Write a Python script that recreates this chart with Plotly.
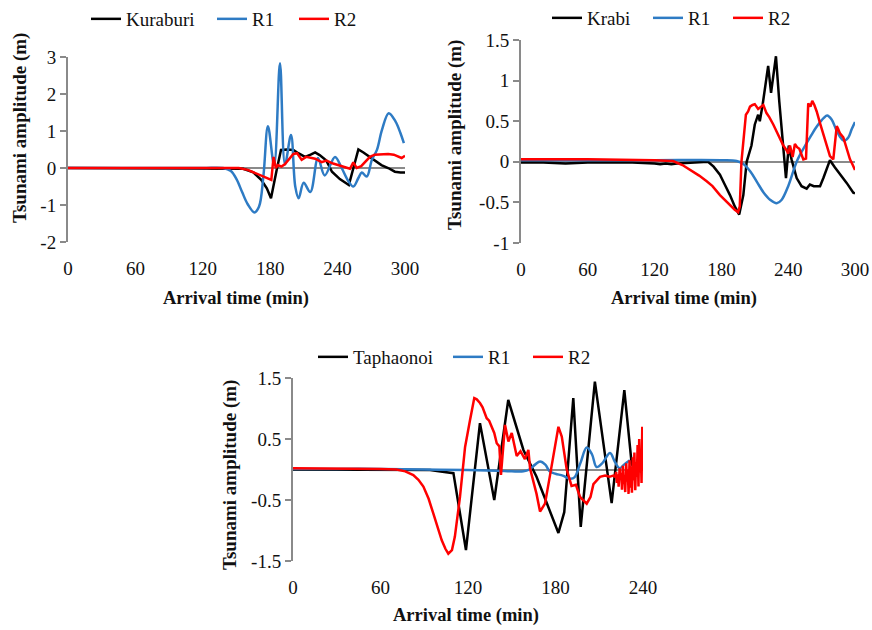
import plotly.graph_objects as go

# ---------------- Kuraburi (observed, R1, R2) ----------------
kura_obs_t = [0, 30, 60, 90, 120, 150, 156, 165, 172, 177, 180.7, 185.8, 189.6, 195, 200.6, 205,
              211, 216, 220, 224, 230, 235, 242, 250, 258.5, 263, 267, 273, 279, 285, 291, 296, 300]
kura_obs_y = [0, 0, 0, 0, 0, 0, -0.02, -0.12, -0.32, -0.55, -0.82, -0.05, 0.49, 0.5, 0.49, 0.4,
              0.3, 0.36, 0.42, 0.35, 0.2, -0.1, -0.3, -0.46, 0.5, 0.42, 0.33, 0.2, 0.08, 0.0, -0.1, -0.12, -0.12]

kura_r1_t = [0, 60, 120, 138, 145, 150, 155, 160, 166, 170, 174, 178, 183.5, 188.7, 193.2, 198.5,
             202.3, 205.3, 209.8, 215.7, 222.5, 228.5, 237.7, 243.6, 249.5, 254, 258.5, 261.5, 266,
             270.5, 275, 279.5, 285.5, 291.5, 296, 299]
kura_r1_y = [0, 0, 0, 0, -0.08, -0.3, -0.65, -0.98, -1.2, -1.05, -0.2, 1.13, 0.08, 2.83, 0.1, 0.89,
             -0.5, -0.82, -0.4, -0.65, 0.27, -0.2, 0.3, 0.0, -0.35, -0.5, -0.27, -0.12, -0.23,
             0.22, 0.49, 1.03, 1.48, 1.26, 0.94, 0.67]

kura_r2_t = [0, 60, 120, 152, 160, 168, 175, 181, 183, 185, 187, 190, 193, 197, 200.6, 204, 208,
             212, 216, 220, 225.8, 230, 236, 243.6, 248, 251, 254, 257, 261, 265, 268.8, 273, 279,
             285, 290, 297, 300]
kura_r2_y = [0, 0, 0, 0, -0.05, -0.15, -0.25, -0.32, 0.3, 0.0, 0.08, 0.04, 0.1, 0.25, 0.38, 0.4, 0.22,
             0.3, 0.28, 0.25, 0.16, 0.2, 0.12, 0.05, 0.02, -0.02, 0.15, 0.0, 0.05, 0.18, 0.3, 0.36, 0.38,
             0.38, 0.36, 0.27, 0.33]

# ---------------- Krabi (observed, R1, R2) ----------------
krabi_obs_t = [0, 20, 40, 60, 80, 100, 120, 125, 130, 135, 140, 160, 168, 173, 178.7, 183, 187.7,
               192, 196, 199.7, 202.7, 207, 210, 213, 214.5, 217, 219, 222, 224.6, 226.6, 229, 232,
               235.6, 238, 240.5, 243, 247.6, 252, 256.6, 259.5, 263, 268.6, 271.6, 277.5, 282,
               286.5, 292.5, 298.5, 300]
krabi_obs_y = [-0.01, -0.01, -0.02, -0.01, -0.01, -0.01, -0.02, -0.03, -0.02, -0.03, -0.02, -0.01, 0,
               -0.06, -0.16, -0.28, -0.41, -0.55, -0.65, -0.41, 0.0, 0.2, 0.46, 0.58, 0.5, 0.7, 0.87,
               1.18, 0.85, 1.03, 1.3, 0.74, 0.2, -0.2, 0.2, 0.03, -0.2, -0.3, -0.33, -0.28, -0.3,
               -0.3, -0.2, 0.02, -0.07, -0.15, -0.26, -0.38, -0.39]

krabi_r1_t = [0, 60, 120, 180, 193.7, 200, 206, 212, 218, 224, 229.7, 234, 240, 247.6, 254, 260,
              266, 272, 275, 279, 283, 287, 290, 294, 297, 300]
krabi_r1_y = [0.02, 0.02, 0.02, 0.02, 0.01, -0.03, -0.12, -0.25, -0.38, -0.47, -0.51, -0.47, -0.3,
              0.0, 0.17, 0.31, 0.44, 0.54, 0.57, 0.52, 0.4, 0.3, 0.26, 0.3, 0.4, 0.49]

krabi_r2_t = [0, 60, 120, 136.5, 145, 154.8, 160, 166.8, 172, 178.7, 185, 192, 195, 196.5, 198, 200,
              202, 204, 205.7, 208, 210, 213, 215.5, 217.7, 220.5, 223, 226.6, 229.5, 232.6, 235.6,
              238.7, 240, 241.6, 243, 244, 246, 248, 250, 252, 253.6, 256, 257, 258, 260, 261.6,
              263.5, 265.6, 268.5, 271.6, 274.5, 277.5, 280.5, 282, 283.6, 285, 286.5, 289.5, 292.5,
              295.5, 298, 300]
krabi_r2_y = [0.03, 0.03, 0.02, 0.01, -0.04, -0.12, -0.17, -0.24, -0.3, -0.41, -0.5, -0.59, -0.62,
              -0.55, 0.0, 0.3, 0.58, 0.62, 0.68, 0.7, 0.71, 0.65, 0.68, 0.7, 0.6, 0.55, 0.46, 0.38,
              0.29, 0.2, 0.14, 0.1, 0.2, 0.1, 0.06, 0.22, 0.18, 0.16, 0.08, 0.03, 0.04, 0.3, 0.72,
              0.68, 0.75, 0.7, 0.62, 0.48, 0.33, 0.2, 0.07, 0.03, 0.2, 0.44, 0.4, 0.35, 0.3, 0.17,
              0.03, -0.04, -0.1]

# ---------------- Taphaonoi (observed, R1, R2) ----------------
taph_obs_t = [0, 30, 60, 90, 94, 100, 107.7, 110, 118.6, 128.2, 138, 147.6, 158, 167, 174, 182, 186,
              192.2, 197.3, 207, 218.5, 227.2, 232.2, 234]
taph_obs_y = [0, 0, 0, 0, -0.01, -0.03, -0.05, -0.06, -1.32, 0.76, -0.5, 1.14, 0.32, -0.12, -0.55,
              -1.04, -0.7, 1.17, -0.94, 1.44, -0.55, 1.3, 0.1, 0.0]

taph_r1_t = [0, 30, 60, 90, 120, 140, 150, 158, 162, 166, 169.4, 173, 176, 180, 185, 190, 193, 197,
             201.4, 205, 208.2, 212, 217.4, 220.8, 224, 227, 231]
taph_r1_y = [0.01, 0.01, 0.01, 0.0, -0.01, -0.02, -0.03, -0.03, 0.0, 0.08, 0.13, 0.08, -0.03, -0.07,
             -0.1, -0.15, -0.13, 0.1, 0.36, 0.25, 0.04, 0.1, 0.27, 0.12, 0.02, 0.08, 0.15]

taph_r2_t = [0, 30, 60, 71, 77, 82.5, 86, 89.4, 93, 96.2, 99, 102, 104.5, 106.5, 109, 111, 114.5,
             118, 121.4, 124.3, 126, 128.2, 130, 132.8, 134.5, 136.2, 138, 139.7, 141.5, 142.6,
             145.4, 147.7, 150, 153.4, 156, 159, 161.4, 162.6, 165, 167, 169.4, 172.8, 176.2, 179,
             182, 184.3, 187.7, 191, 194, 196.8, 201.4, 204, 206, 210.5, 214, 217, 219.6,
             221, 221.6, 222.1, 222.8, 223.3, 224, 224.4, 225.1, 225.6, 226.2, 226.7, 227.3, 227.8,
             228.5, 229, 229.6, 230.1, 230.8, 231.2, 231.9, 232.4, 233, 233.6, 234.1, 234.7,
             235.2, 235.8, 236.3, 236.9, 237.4, 238, 238.5, 239, 239.5, 240]
taph_r2_y = [0.02, 0.02, 0.01, 0.0, -0.03, -0.09, -0.17, -0.28, -0.48, -0.72, -0.95, -1.16, -1.3,
             -1.38, -1.32, -1.1, -0.45, 0.37, 0.81, 1.17, 1.15, 1.09, 1.02, 0.84, 0.8, 0.7, 0.6,
             0.43, 0.38, -0.09, 0.73, 0.46, 0.6, 0.22, 0.3, 0.17, 0.32, 0.01, -0.2, -0.4, -0.69,
             -0.56, -0.1, 0.3, 0.7, 0.54, 0.0, -0.27, -0.25, -0.45, -0.56, -0.45, -0.24, -0.12,
             -0.1, -0.12, -0.1,
             -0.12, -0.04, -0.22, -0.08, -0.28, 0.02, -0.15, -0.06, -0.33, 0.06, -0.24, -0.1, -0.37,
             0.1, -0.2, 0.0, -0.4, 0.15, -0.3, 0.05, -0.38, 0.2, -0.18, 0.28, -0.34, 0.12,
             -0.12, 0.4, -0.28, 0.5, -0.05, 0.3, -0.22, 0.7, -0.02, 0.55, -0.15, 0.85, 0.35]

# ---------------- axis ticks ----------------
x_ticks_300 = [0, 60, 120, 180, 240, 300]
x_ticks_240 = [0, 60, 120, 180, 240]
kura_y_ticks = [-2, -1, 0, 1, 2, 3]
krabi_y_ticks = [-1, -0.5, 0, 0.5, 1, 1.5]
taph_y_ticks = [-1.5, -0.5, 0.5, 1.5]

BLACK, BLUE, RED = "#000000", "#2E7BC4", "#FF0000"
AXIS_GREY = "#8A8A8A"
TEXT = "#111111"
FONT = "'Liberation Serif', 'Times New Roman', serif"
W, H = 872, 630


def fx(p):
    return p / W


def fy(p):
    return 1 - p / H


def label(v):
    return f"{v:g}"


panels = [
    dict(idx="", station="Kuraburi", legend="legend",
         series=[(kura_obs_t, kura_obs_y), (kura_r1_t, kura_r1_y), (kura_r2_t, kura_r2_y)],
         widths=[81, 37, 30], xpx=(68, 405), ypx=(242, 57), xr=[0, 300], yr=[-2, 3],
         xt=x_ticks_300, yt=kura_y_ticks, leg=(86, 19), ytitle=(20, 128), xtitle=(236, 298)),
    dict(idx="2", station="Krabi", legend="legend2",
         series=[(krabi_obs_t, krabi_obs_y), (krabi_r1_t, krabi_r1_y), (krabi_r2_t, krabi_r2_y)],
         widths=[56, 35, 30], xpx=(521, 855), ypx=(243, 40), xr=[0, 300], yr=[-1, 1.5],
         xt=x_ticks_300, yt=krabi_y_ticks, leg=(547, 18), ytitle=(455, 135), xtitle=(684, 298)),
    dict(idx="3", station="Taphaonoi", legend="legend3",
         series=[(taph_obs_t, taph_obs_y), (taph_r1_t, taph_r1_y), (taph_r2_t, taph_r2_y)],
         widths=[90, 35, 30], xpx=(293, 643), ypx=(561, 378), xr=[0, 240], yr=[-1.5, 1.5],
         xt=x_ticks_240, yt=taph_y_ticks, leg=(313, 357), ytitle=(230, 475), xtitle=(466, 615)),
]

fig = go.Figure()
layout = dict(
    width=W, height=H, margin=dict(l=0, r=0, t=0, b=0, autoexpand=False),
    paper_bgcolor="white", plot_bgcolor="white",
    font=dict(family=FONT, size=19, color=TEXT),
    annotations=[],
)

for p in panels:
    names = [p["station"], "R1", "R2"]
    colors = [BLACK, BLUE, RED]
    shapes = ["linear", "spline", "linear"]
    for (t, y), nm, c, sh, lw in zip(p["series"], names, colors, shapes, p["widths"]):
        fig.add_trace(go.Scatter(
            x=t, y=y, mode="lines", name=nm,
            line=dict(color=c, width=2.5, shape=sh),
            xaxis="x" + p["idx"], yaxis="y" + p["idx"],
            legend=p["legend"], legendwidth=lw, hoverinfo="skip",
        ))

    layout["xaxis" + p["idx"]] = dict(
        domain=[fx(p["xpx"][0]), fx(p["xpx"][1])], range=p["xr"],
        anchor="y" + p["idx"], tickvals=p["xt"], ticktext=[label(v) for v in p["xt"]],
        ticks="outside", ticklen=9, tickcolor="rgba(0,0,0,0)",
        showgrid=False, zeroline=False, showline=False,
        tickfont=dict(family=FONT, size=19, color=TEXT),
    )
    layout["yaxis" + p["idx"]] = dict(
        domain=[fy(p["ypx"][0]), fy(p["ypx"][1])], range=p["yr"],
        anchor="x" + p["idx"], tickvals=p["yt"], ticktext=[label(v) for v in p["yt"]],
        ticks="outside", ticklen=6, tickwidth=2, tickcolor=AXIS_GREY,
        showline=True, linecolor=AXIS_GREY, linewidth=2,
        showgrid=False, zeroline=True, zerolinecolor=AXIS_GREY, zerolinewidth=2,
        tickfont=dict(family=FONT, size=19, color=TEXT),
    )
    layout[p["legend"]] = dict(
        orientation="h", x=fx(p["leg"][0]), y=fy(p["leg"][1]),
        xref="container", yref="container",
        xanchor="left", yanchor="middle", bgcolor="rgba(0,0,0,0)",
        font=dict(family=FONT, size=19, color=TEXT), traceorder="normal",
    )
    layout["annotations"].append(dict(
        text="<b>Tsunami amplitude (m)</b>", textangle=-90,
        x=fx(p["ytitle"][0]), y=fy(p["ytitle"][1]), xref="paper", yref="paper",
        xanchor="center", yanchor="middle", showarrow=False,
        font=dict(family=FONT, size=19, color=TEXT),
    ))
    layout["annotations"].append(dict(
        text="<b>Arrival time (min)</b>",
        x=fx(p["xtitle"][0]), y=fy(p["xtitle"][1]), xref="paper", yref="paper",
        xanchor="center", yanchor="middle", showarrow=False,
        font=dict(family=FONT, size=18.5, color=TEXT),
    ))

fig.update_layout(**layout)
fig.write_html("out.html", config={"displayModeBar": False})
